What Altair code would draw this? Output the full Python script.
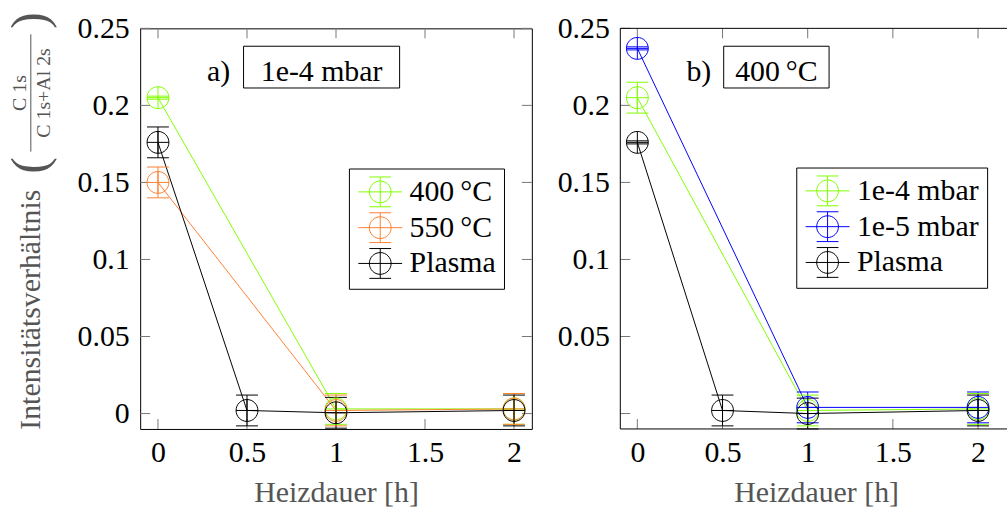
import altair as alt
import pandas as pd

FONT = "Liberation Serif"
FS = 30
INK = "#000000"
TITLE_INK = "#555555"

# ---- panel a) 1e-4 mbar ----
names_a = ["400\u2009°C", "550\u2009°C", "Plasma"]
colors_a = ["#80ff00", "#ff8030", "#000000"]
t_400 = [0, 1, 2]
v_400 = [0.205, 0.003, 0.003]
e_400 = [0.001, 0.01, 0.01]
t_550 = [0, 1, 2]
v_550 = [0.150, 0.002, 0.003]
e_550 = [0.01, 0.01, 0.01]
t_pl_a = [0, 0.5, 1, 2]
v_pl_a = [0.176, 0.002, 0.0005, 0.002]
e_pl_a = [0.01, 0.01, 0.01, 0.01]

# ---- panel b) 400 °C ----
names_b = ["1e-4 mbar", "1e-5 mbar", "Plasma"]
colors_b = ["#80ff00", "#0000ff", "#000000"]
t_1e4 = [0, 1, 2]
v_1e4 = [0.205, 0.002, 0.003]
e_1e4 = [0.01, 0.01, 0.01]
t_1e5 = [0, 1, 2]
v_1e5 = [0.237, 0.004, 0.004]
e_1e5 = [0.001, 0.01, 0.01]
t_pl_b = [0, 0.5, 1, 2]
v_pl_b = [0.176, 0.002, 0.0, 0.002]
e_pl_b = [0.001, 0.01, 0.01, 0.01]

tick_t = [0, 0.5, 1, 1.5, 2]
tick_v = [0, 0.05, 0.1, 0.15, 0.2, 0.25]

H = 403
MARKER = "M-1,0A1,1,0,1,1,1,0A1,1,0,1,1,-1,0M-1,0L1,0M0,-1L0,1"
LEGEND_SYMBOL = ("M-1.47,0L1.47,0M-0.73,0A0.73,0.73,0,1,1,0.73,0A0.73,0.73,0,1,1,-0.73,0"
                 "M0,-1L0,1M-0.73,-1L0.73,-1M-0.73,1L0.73,1")


def series_frame(names, ts, vs, es):
    rows = []
    for name, t, v, e in zip(names, ts, vs, es):
        for ti, vi, ei in zip(t, v, e):
            rows.append({"Serie": name, "t": ti, "v": vi, "lo": vi - ei, "hi": vi + ei})
    return pd.DataFrame(rows)


one = pd.DataFrame({"k": [0]})


def label(text, x, y, size=FS, angle=0, color=INK, baseline="alphabetic"):
    return alt.Chart(one).mark_text(
        text=text, font=FONT, fontSize=size, angle=angle, color=color,
        align="center", baseline=baseline, fontWeight="normal",
    ).encode(x=alt.value(x), y=alt.value(y))


def panel(df, names, colors, W, xmax, tag, box_label, box_x2, legend_xy,
          zero_label, right_ticks, extra):
    xs = alt.Scale(domain=[-0.1, xmax], nice=False, zero=False)
    ys = alt.Scale(domain=[-0.01, 0.25], nice=False, zero=False)
    xaxis = alt.Axis(values=tick_t, format=".1~f", ticks=False, domain=False, grid=False,
                     labelFont=FONT, labelFontSize=FS, labelColor=INK, labelPadding=9,
                     labelFontWeight="normal", labelFlush=False, labelOverlap=False,
                     title="Heizdauer [h]", titleFont=FONT, titleFontSize=FS,
                     titleFontWeight="normal", titleColor=TITLE_INK, titleX=197,
                     titleY=73, titleAlign="center", titleBaseline="alphabetic")
    yexpr = ("format(datum.value, '.2~f')" if zero_label
             else "datum.value == 0 ? '' : format(datum.value, '.2~f')")
    yaxis = alt.Axis(values=tick_v, labelExpr=yexpr, ticks=False, domain=False, grid=False,
                     labelFont=FONT, labelFontSize=FS, labelColor=INK, labelPadding=11,
                     labelFontWeight="normal", labelFlush=False, labelOverlap=False, title=None)

    def X(f):
        return alt.X(f, type="quantitative", scale=xs, axis=xaxis)

    def Y(f):
        return alt.Y(f, type="quantitative", scale=ys, axis=yaxis)

    color = alt.Color(
        "Serie:N", scale=alt.Scale(domain=names, range=colors),
        legend=alt.Legend(
            orient="none", legendX=legend_xy[0], legendY=legend_xy[1], title=None,
            fillColor="white", strokeColor="black", padding=8, symbolOffset=8,
            symbolType=LEGEND_SYMBOL, symbolSize=900, symbolStrokeWidth=1,
            symbolFillColor="transparent", labelFont=FONT, labelFontSize=FS,
            labelFontWeight="normal", labelColor=INK, labelOffset=14, rowPadding=1,
            labelLimit=400,
        ),
    )

    base = alt.Chart(df)
    tx = pd.DataFrame({"t": tick_t})
    tv = pd.DataFrame({"v": tick_v})
    tick_style = dict(color="#777777", strokeWidth=1)
    layers = [
        alt.Chart(tx).mark_rule(**tick_style).encode(x=X("t"), y=alt.value(H), y2=alt.value(H - 10)),
        alt.Chart(tx).mark_rule(**tick_style).encode(x=X("t"), y=alt.value(0), y2=alt.value(10)),
        alt.Chart(tv).mark_rule(**tick_style).encode(y=Y("v"), x=alt.value(0), x2=alt.value(10)),
    ]
    if right_ticks:
        layers.append(alt.Chart(tv).mark_rule(**tick_style).encode(
            y=Y("v"), x=alt.value(W - 10), x2=alt.value(W)))
    layers += [
        base.mark_line(strokeWidth=1).encode(x=X("t"), y=Y("v"), color=color),
        base.mark_rule(strokeWidth=1).encode(x=X("t"), y=Y("lo"), y2="hi:Q", color=color),
        base.mark_rule(strokeWidth=1, xOffset=-11, x2Offset=11).encode(
            x=X("t"), x2="t:Q", y=Y("lo"), color=color),
        base.mark_rule(strokeWidth=1, xOffset=-11, x2Offset=11).encode(
            x=X("t"), x2="t:Q", y=Y("hi"), color=color),
        base.mark_point(shape=MARKER, size=484, filled=False, strokeWidth=1, opacity=1).encode(
            x=X("t"), y=Y("v"), color=color),
        # tag and boxed condition label
        alt.Chart(one).mark_rect(fill="white", stroke="black", strokeWidth=1).encode(
            x=alt.value(104), x2=alt.value(box_x2), y=alt.value(18), y2=alt.value(60)),
        label(tag, 79, 53),
        label(box_label, (104 + box_x2) / 2, 53),
    ]
    layers += extra
    return alt.layer(*layers).properties(width=W, height=H)


df_a = series_frame(names_a, [t_400, t_550, t_pl_a], [v_400, v_550, v_pl_a], [e_400, e_550, e_pl_a])
df_b = series_frame(names_b, [t_1e4, t_1e5, t_pl_b], [v_1e4, v_1e5, v_pl_b], [e_1e4, e_1e5, e_pl_b])

# y title: Intensitätsverhältnis (C 1s / (C 1s + Al 2s))
ytitle = [
    label("Intensitätsverhältnis", -110, 283, angle=270, color=TITLE_INK, baseline="middle"),
    label("(", -110, 138, size=50, angle=270, color=TITLE_INK, baseline="middle"),
    label(")", -110, -8, size=50, angle=270, color=TITLE_INK, baseline="middle"),
    label("C 1s", -121, 65, size=20, angle=270, color=TITLE_INK, baseline="middle"),
    label("C 1s+Al 2s", -97, 65, size=20, angle=270, color=TITLE_INK, baseline="middle"),
    alt.Chart(one).mark_rule(color=TITLE_INK, strokeWidth=1).encode(
        x=alt.value(-110), y=alt.value(6), y2=alt.value(124)),
]

left = panel(df_a, names_a, colors_a, 394, 2.1, "a)", "1e-4 mbar", 261,
             (210, 141), True, True, ytitle)

WR = 389
frame_b = [
    alt.Chart(one).mark_rule(color="black", strokeWidth=1).encode(
        x=alt.value(0), x2=alt.value(WR), y=alt.value(0)),
    alt.Chart(one).mark_rule(color="black", strokeWidth=1).encode(
        x=alt.value(0), x2=alt.value(WR), y=alt.value(H)),
    alt.Chart(one).mark_rule(color="black", strokeWidth=1).encode(
        x=alt.value(0), y=alt.value(0), y2=alt.value(H)),
]
right = panel(df_b, names_b, colors_b, WR, 2.17, "b)", "400\u2009°C", 210,
              (177, 140), False, False, frame_b).properties(
    view=alt.ViewBackground(stroke="transparent"))

chart = alt.hconcat(left, right, spacing=24).resolve_scale(
    x="independent", y="independent", color="independent"
).resolve_legend(color="independent").properties(
    padding={"left": 5, "top": 10, "right": 0, "bottom": 0},
    background="white",
).configure_view(stroke="black", strokeWidth=1).configure_text(font=FONT)

chart.save("out.html", embed_options={"renderer": "svg", "actions": False})
